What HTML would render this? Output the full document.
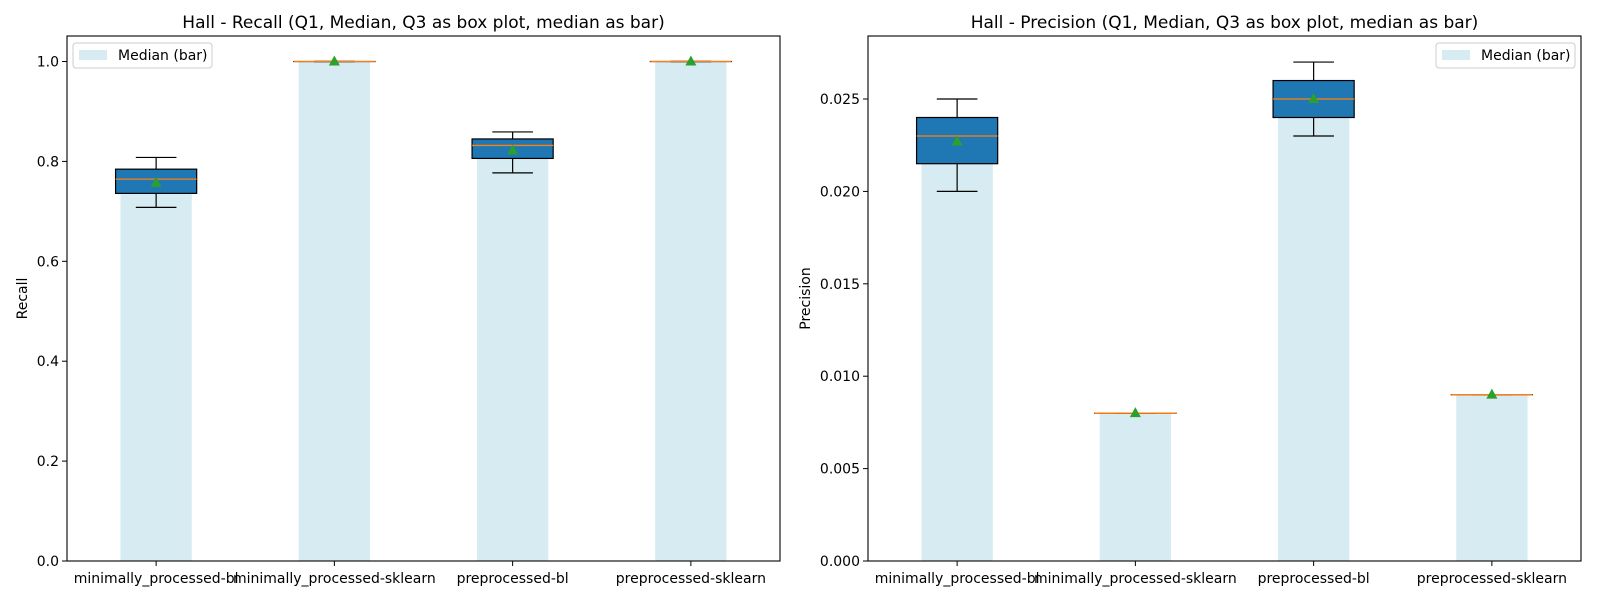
<!DOCTYPE html>
<html><head><meta charset="utf-8"><style>
html,body{margin:0;padding:0;background:#fff;}
svg{display:block;font-family:"DejaVu Sans","Liberation Sans",sans-serif;}
</style></head><body>
<svg id="chart" width="1600" height="600" viewBox="0 0 1600 600"></svg>
<script>
const categories = ["minimally_processed-bl","minimally_processed-sklearn","preprocessed-bl","preprocessed-sklearn"];
const recallQ1 = [0.736, 1.0, 0.806, 1.0];
const recallMedian = [0.7645, 1.0, 0.832, 1.0];
const recallQ3 = [0.7845, 1.0, 0.845, 1.0];
const recallLow = [0.708, 1.0, 0.777, 1.0];
const recallHigh = [0.808, 1.0, 0.859, 1.0];
const recallMean = [0.757, 1.0, 0.822, 1.0];
const recallTicks = [0.0, 0.2, 0.4, 0.6, 0.8, 1.0];
const recallTickLabels = ["0.0","0.2","0.4","0.6","0.8","1.0"];
const precQ1 = [0.0215, 0.008, 0.024, 0.009];
const precMedian = [0.023, 0.008, 0.025, 0.009];
const precQ3 = [0.024, 0.008, 0.026, 0.009];
const precLow = [0.020, 0.008, 0.023, 0.009];
const precHigh = [0.025, 0.008, 0.027, 0.009];
const precMean = [0.0227, 0.008, 0.025, 0.009];
const precTicks = [0, 0.005, 0.010, 0.015, 0.020, 0.025];
const precTickLabels = ["0.000","0.005","0.010","0.015","0.020","0.025"];

const svg = document.getElementById('chart');
const NS = 'http://www.w3.org/2000/svg';
function mk(tag, attrs, parent, text){
  const e = document.createElementNS(NS, tag);
  for (const k in attrs) e.setAttribute(k, attrs[k]);
  if (text !== undefined) e.textContent = text;
  (parent||svg).appendChild(e);
  return e;
}
function panel(o){
  const g = mk('g', {});
  
  
  const L=o.left, R=o.left+713, T=36, B=561;
  const xs = i => L + (i + 0.5) * (R - L) / 4;
  const ux = (R - L) / 4;
  const ys = v => B - v / o.ymax * (B - T);
  categories.forEach((c,i)=>{
    const r = mk('rect', {x: xs(i)-0.2*ux, y: ys(o.med[i]), width: 0.4*ux, height: B-ys(o.med[i]), fill:'#add8e6', 'fill-opacity':0.5}, g);
    
    
  });
  categories.forEach((c,i)=>{
    const bg = mk('g', {}, g);
    
    
    const cx = xs(i), hw = 0.2275*ux, cw = 0.114*ux;
    mk('line', {x1:cx, x2:cx, y1:ys(o.q3[i]), y2:ys(o.hi[i]), stroke:'#000','stroke-width':1.2}, bg);
    mk('line', {x1:cx, x2:cx, y1:ys(o.q1[i]), y2:ys(o.lo[i]), stroke:'#000','stroke-width':1.2}, bg);
    mk('line', {x1:cx-cw, x2:cx+cw, y1:ys(o.hi[i]), y2:ys(o.hi[i]), stroke:'#000','stroke-width':1.2}, bg);
    mk('line', {x1:cx-cw, x2:cx+cw, y1:ys(o.lo[i]), y2:ys(o.lo[i]), stroke:'#000','stroke-width':1.2}, bg);
    mk('rect', {x:cx-hw, y:ys(o.q3[i]), width:2*hw, height:Math.max(0.01, ys(o.q1[i])-ys(o.q3[i])), fill:'#1f77b4', stroke:'#000','stroke-width':1.2}, bg);
    mk('line', {x1:cx-hw, x2:cx+hw, y1:ys(o.med[i]), y2:ys(o.med[i]), stroke:'#ff7f0e','stroke-width':1.3}, bg);
    const my = ys(o.mean[i]);
    mk('polygon', {points:`${cx},${my-6} ${cx-5.5},${my+4} ${cx+5.5},${my+4}`, fill:'#2ca02c'}, bg);
  });
  const f = mk('rect', {x:L, y:T, width:R-L, height:B-T, fill:'none', stroke:'#000','stroke-width':1.1}, g);
  
  
  o.ticks.forEach((t,k)=>{
    const y = ys(t);
    mk('line', {x1:L-5, x2:L, y1:y, y2:y, stroke:'#000'}, g);
    const tx = mk('text', {x:L-8, y:y+5, 'text-anchor':'end', 'font-size':14, fill:'#000'}, g, o.tickLabels[k]);
    
    
  });
  categories.forEach((c,i)=>{
    mk('line', {x1:xs(i), x2:xs(i), y1:B, y2:B+5, stroke:'#000'}, g);
    const tx = mk('text', {x:xs(i), y:B+22, 'text-anchor':'middle', 'font-size':14, fill:'#000'}, g, c);
    
    
  });
  const tt = mk('text', {x:(L+R)/2, y:28, 'text-anchor':'middle', 'font-size':17, fill:'#000'}, g, o.title);
  
  
  const yl = mk('text', {x:0, y:0, transform:`translate(${o.ylx},${(T+B)/2}) rotate(-90)`, 'text-anchor':'middle', 'font-size':14, fill:'#000'}, g, o.ylabel);
  
  
  const lg = mk('g', {}, g);
  
  
  mk('rect', {x:o.legX, y:43, width:139, height:25, rx:3, fill:'#fff', 'fill-opacity':0.8, stroke:'#ccc'}, lg);
  mk('rect', {x:o.legX+6, y:50, width:28, height:10, fill:'#add8e6','fill-opacity':0.5}, lg);
  mk('text', {x:o.legX+45, y:60, 'font-size':14, fill:'#000'}, lg, 'Median (bar)');
}
panel({name:'recall-panel', left:67, ymax:1.0511, q1:recallQ1, med:recallMedian, q3:recallQ3, lo:recallLow, hi:recallHigh, mean:recallMean, ticks:recallTicks, tickLabels:recallTickLabels, title:'Hall - Recall (Q1, Median, Q3 as box plot, median as bar)', ylabel:'Recall', ylx:27, legX:73});
panel({name:'precision-panel', left:868, ymax:0.02841, q1:precQ1, med:precMedian, q3:precQ3, lo:precLow, hi:precHigh, mean:precMean, ticks:precTicks, tickLabels:precTickLabels, title:'Hall - Precision (Q1, Median, Q3 as box plot, median as bar)', ylabel:'Precision', ylx:810, legX:1436});
</script>
</body></html>
